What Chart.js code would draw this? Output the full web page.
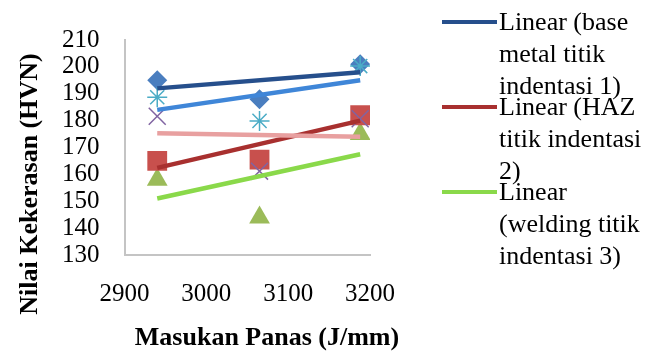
<!DOCTYPE html>
<html lang="id">
<head>
    <meta charset="UTF-8">
    <title>Nilai Kekerasan vs Masukan Panas</title>
    <script src="https://cdn.jsdelivr.net/npm/chart.js"></script>
    <style>
        body {
            margin: 0;
            background: #fff;
        }

        .chart-box {
            width: 650px;
            height: 360px;
            position: relative;
        }
    </style>
</head>
<body>

    <div class="chart-box">
        <canvas id="hardnessChart"></canvas>
    </div>

    <script>
        // data
        const heatInput = [2940, 3065, 3188];
        const baseMetal1 = [195, 188, 201];
        const haz2 = [165, 165.5, 182];
        const welding3 = [158, 144, 175];
        const series4 = [181.6, 161.2, 180.7];
        const series5 = [188.7, 179.9, 200.3];

        // trendline end points (Linear)
        const trendX = [2940, 3188];
        const trendBase = [192, 198];
        const trendHaz = [162.4, 180];
        const trendWeld = [151, 167.5];
        const trend4 = [175.3, 174];
        const trend5 = [184, 195];

        const xTicks = [2900, 3000, 3100, 3200];
        const yTicks = [130, 140, 150, 160, 170, 180, 190, 200, 210];

        const xTitle = 'Masukan Panas (J/mm)';
        const yTitle = 'Nilai Kekerasan (HVN)';
        const legendText = [
            ['Linear (base', 'metal titik', 'indentasi 1)'],
            ['Linear (HAZ', 'titik indentasi', '2)'],
            ['Linear', '(welding titik', 'indentasi 3)']
        ];

        const navy = '#264F8C';
        const darkRed = '#A8302F';
        const lightGreen = '#8AD94A';

        function pts(xs, ys) {
            return xs.map((x, i) => ({ x: x, y: ys[i] }));
        }

        function markerSet(label, ys, style, radius, color) {
            return {
                label: label,
                data: pts(heatInput, ys),
                pointStyle: style,
                pointRadius: radius,
                backgroundColor: color,
                borderColor: color,
                borderWidth: (style === 'crossRot' || style === 'star') ? 1.5 : 0,
                showLine: false,
                order: 2
            };
        }

        function trendSet(label, ys, color) {
            return {
                label: label,
                data: pts(trendX, ys),
                showLine: true,
                borderColor: color,
                borderWidth: 4.5,
                pointRadius: 0,
                order: 1
            };
        }

        // legend and axis titles drawn by hand
        const titlesAndLegend = {
            id: 'titlesAndLegend',
            afterDraw(chart) {
                const ctx = chart.ctx;
                ctx.save();
                ctx.fillStyle = '#000';
                ctx.textAlign = 'center';
                ctx.textBaseline = 'middle';
                ctx.font = 'bold 26px "Liberation Serif"';
                ctx.fillText(xTitle, 267, 338);

                ctx.save();
                ctx.translate(30, 184);
                ctx.rotate(-Math.PI / 2);
                ctx.fillText(yTitle, 0, 0);
                ctx.restore();

                const colors = [navy, darkRed, lightGreen];
                const starts = [22, 107, 192];
                ctx.font = '26px "Liberation Serif"';
                ctx.textAlign = 'left';
                legendText.forEach((lines, i) => {
                    ctx.strokeStyle = colors[i];
                    ctx.lineWidth = 4;
                    ctx.beginPath();
                    ctx.moveTo(442, starts[i]);
                    ctx.lineTo(497, starts[i]);
                    ctx.stroke();
                    lines.forEach((t, j) => {
                        ctx.fillText(t, 499, starts[i] + 1 + j * 32);
                    });
                });
                ctx.restore();
            }
        };

        const tickFont = { family: '"Liberation Serif"', size: 25 };

        const ctx = document.getElementById('hardnessChart').getContext('2d');
        const hardnessChart = new Chart(ctx, {
            type: 'scatter',
            data: {
                datasets: [
                    markerSet('series 5', series5, 'star', 10, '#4BACC6'),
                    markerSet('base metal titik indentasi 1', baseMetal1, 'rectRot', 10, '#4A7EBF'),
                    markerSet('series 4', series4, 'crossRot', 12, '#8064A2'),
                    markerSet('HAZ titik indentasi 2', haz2, 'rect', 14, '#C8504D'),
                    markerSet('welding titik indentasi 3', welding3, 'triangle', 12, '#9BBB59'),
                    trendSet('Linear (series 4)', trend4, '#E8A0A0'),
                    trendSet('Linear (series 5)', trend5, '#3F86D8'),
                    trendSet('Linear (base metal titik indentasi 1)', trendBase, navy),
                    trendSet('Linear (HAZ titik indentasi 2)', trendHaz, darkRed),
                    trendSet('Linear (welding titik indentasi 3)', trendWeld, lightGreen)
                ]
            },
            options: {
                responsive: true,
                maintainAspectRatio: false,
                animation: false,
                layout: {
                    padding: { left: 37, right: 280, top: 37, bottom: 27 }
                },
                plugins: {
                    legend: { display: false },
                    tooltip: { enabled: false }
                },
                scales: {
                    x: {
                        type: 'linear',
                        min: xTicks[0],
                        max: xTicks[xTicks.length - 1],
                        grid: { display: false, drawTicks: false },
                        border: { display: true, color: '#C4C4C4', width: 2 },
                        ticks: {
                            stepSize: xTicks[1] - xTicks[0],
                            autoSkip: false,
                            maxRotation: 0,
                            padding: 24,
                            color: '#000',
                            font: tickFont,
                            callback: (v) => String(v)
                        }
                    },
                    y: {
                        min: yTicks[0],
                        max: yTicks[yTicks.length - 1],
                        grid: { display: false, drawTicks: false },
                        border: { display: true, color: '#C4C4C4', width: 2 },
                        ticks: {
                            stepSize: yTicks[1] - yTicks[0],
                            autoSkip: false,
                            padding: 25,
                            color: '#000',
                            font: tickFont,
                            callback: (v) => String(v)
                        }
                    }
                }
            },
            plugins: [titlesAndLegend]
        });
    </script>

</body>
</html>
